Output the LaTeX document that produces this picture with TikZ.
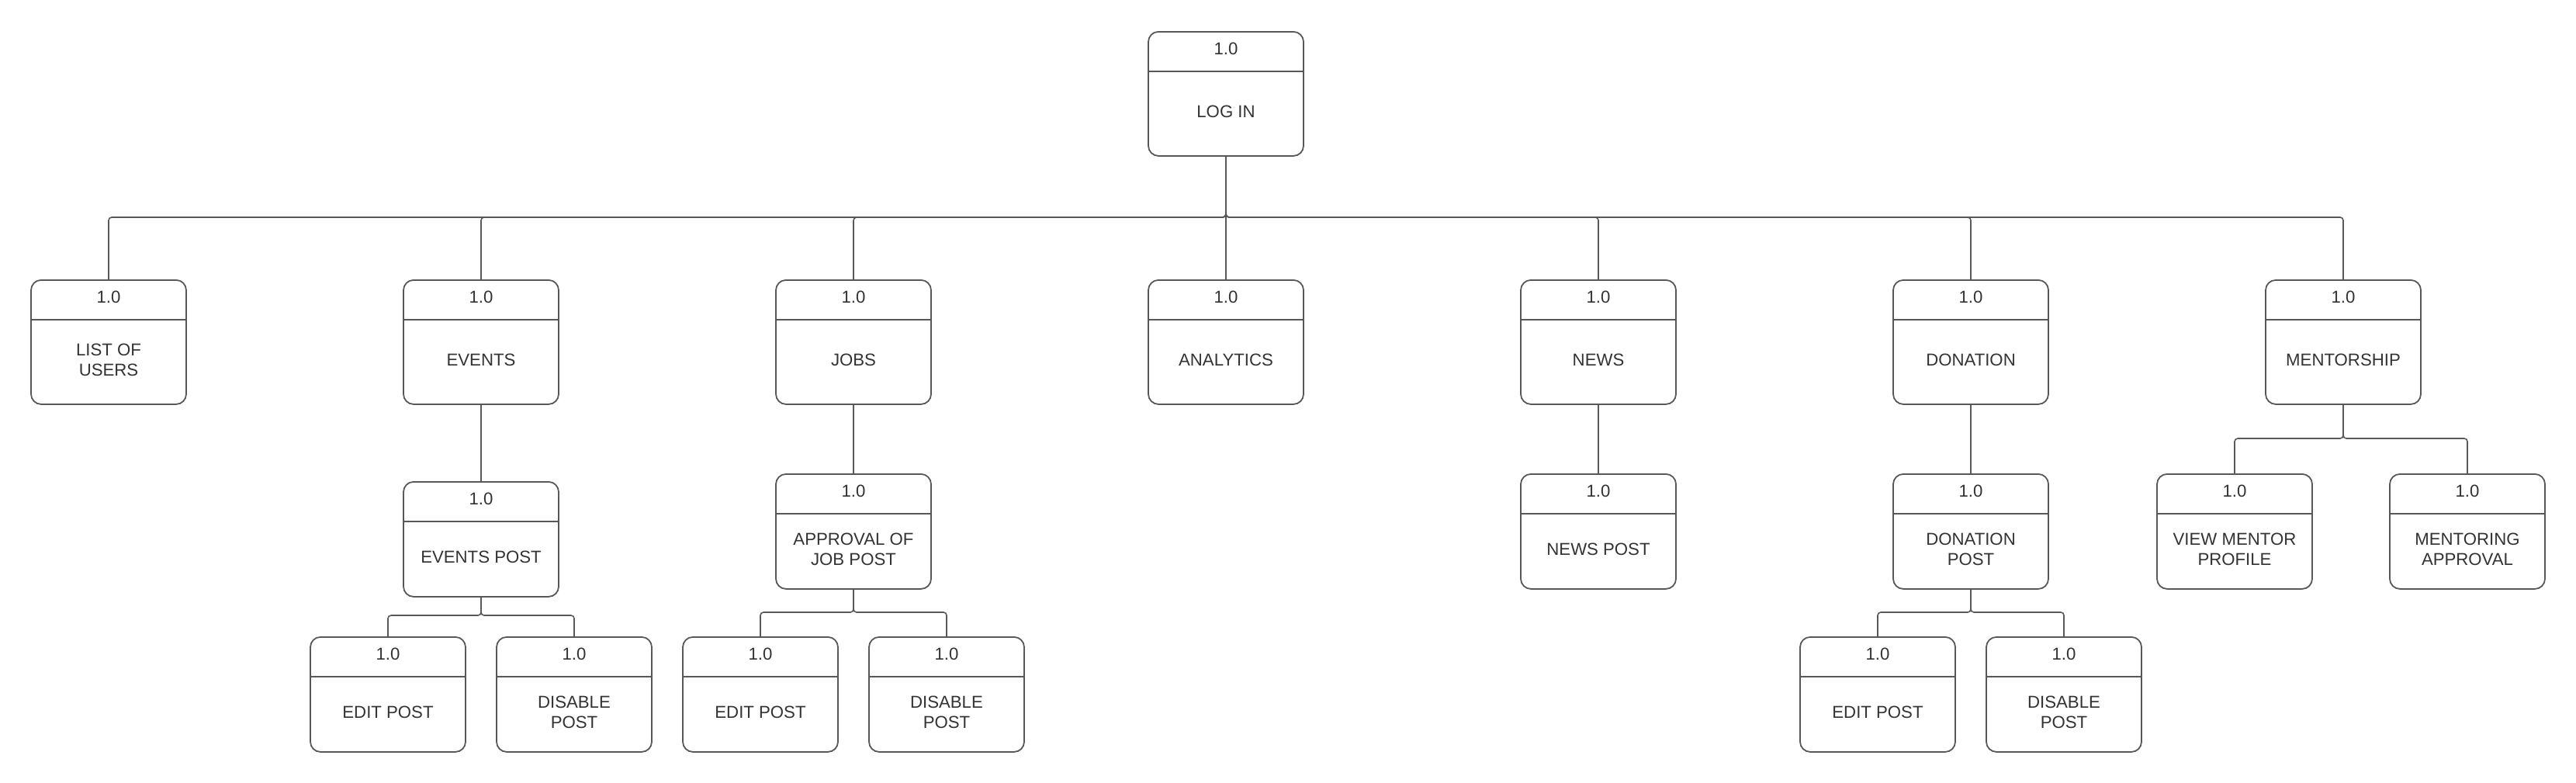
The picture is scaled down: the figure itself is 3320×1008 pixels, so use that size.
\documentclass[tikz,border=0pt]{standalone}
\usepackage{fontspec}
\setmainfont{Liberation Sans}
\usetikzlibrary{calc}
\definecolor{linec}{RGB}{88,88,88}
\definecolor{textc}{RGB}{51,51,51}
\tikzset{
  pbox/.style={draw=linec, line width=0.9pt, rounded corners=6.5pt, minimum width=100pt, inner sep=0pt, fill=white},
  divider/.style={draw=linec, line width=0.8pt},
  numtext/.style={text=textc, font=\fontsize{11.1}{13.3}\selectfont, inner sep=0pt},
  bodytext/.style={text=textc, font=\fontsize{11.1}{13.3}\selectfont, align=center, inner sep=0pt},
  conn/.style={draw=linec, line width=0.8pt, rounded corners=2pt}
}
\newcommand\pbox[5]{%
  \node[pbox, minimum height=#4*0.5pt, anchor=north] (#1) at (#2,#3) {};
  \draw[divider] ([yshift=-26pt]#1.north west) -- ([yshift=-26pt]#1.north east);
  \node[numtext] (#1-n) at ([yshift=-11.5pt]#1.north) {1.0};
  \node[bodytext] (#1-t) at ($(#1.south)!0.5!([yshift=-26pt]#1.north)+(0,1.5pt)$) {#5};
}
\begin{document}
\begin{tikzpicture}[x=0.5pt,y=-0.5pt]
\useasboundingbox[fill=white] (0,0) rectangle (3320,1008);
% level 0
\pbox{login}{1580}{40}{160}{LOG IN}
% level 1
\pbox{list}{140}{360}{160}{LIST OF\\USERS}
\pbox{events}{620}{360}{160}{EVENTS}
\pbox{jobs}{1100}{360}{160}{JOBS}
\pbox{analytics}{1580}{360}{160}{ANALYTICS}
\pbox{news}{2060}{360}{160}{NEWS}
\pbox{donation}{2540}{360}{160}{DONATION}
\pbox{mentor}{3020}{360}{160}{MENTORSHIP}
% level 2
\pbox{evpost}{620}{620}{148}{EVENTS POST}
\pbox{approval}{1100}{610}{148}{APPROVAL OF\\JOB POST}
\pbox{newspost}{2060}{610}{148}{NEWS POST}
\pbox{donpost}{2540}{610}{148}{DONATION\\POST}
\pbox{viewmentor}{2880}{610}{148}{VIEW MENTOR\\PROFILE}
\pbox{mentapp}{3180}{610}{148}{MENTORING\\APPROVAL}
% level 3
\pbox{evedit}{500}{820}{148}{EDIT POST}
\pbox{evdis}{740}{820}{148}{DISABLE\\POST}
\pbox{jobedit}{980}{820}{148}{EDIT POST}
\pbox{jobdis}{1220}{820}{148}{DISABLE\\POST}
\pbox{donedit}{2420}{820}{148}{EDIT POST}
\pbox{dondis}{2660}{820}{148}{DISABLE\\POST}
% bus points
\coordinate (bus0) at (1580,280);
\coordinate (busev) at (620,793);
\coordinate (busjob) at (1100,789);
\coordinate (busdon) at (2540,789);
\coordinate (busmen) at (3020,565);
% connectors
\foreach \c in {list,events,jobs,news,donation,mentor}
  \draw[conn] (login.south) -- (bus0) -| (\c.north);
\draw[conn] (login.south) -- (analytics.north);
\draw[conn] (events.south) -- (evpost.north);
\draw[conn] (jobs.south) -- (approval.north);
\draw[conn] (news.south) -- (newspost.north);
\draw[conn] (donation.south) -- (donpost.north);
\foreach \c in {viewmentor,mentapp}
  \draw[conn] (mentor.south) -- (busmen) -| (\c.north);
\foreach \c in {evedit,evdis}
  \draw[conn] (evpost.south) -- (busev) -| (\c.north);
\foreach \c in {jobedit,jobdis}
  \draw[conn] (approval.south) -- (busjob) -| (\c.north);
\foreach \c in {donedit,dondis}
  \draw[conn] (donpost.south) -- (busdon) -| (\c.north);
\end{tikzpicture}
\end{document}
